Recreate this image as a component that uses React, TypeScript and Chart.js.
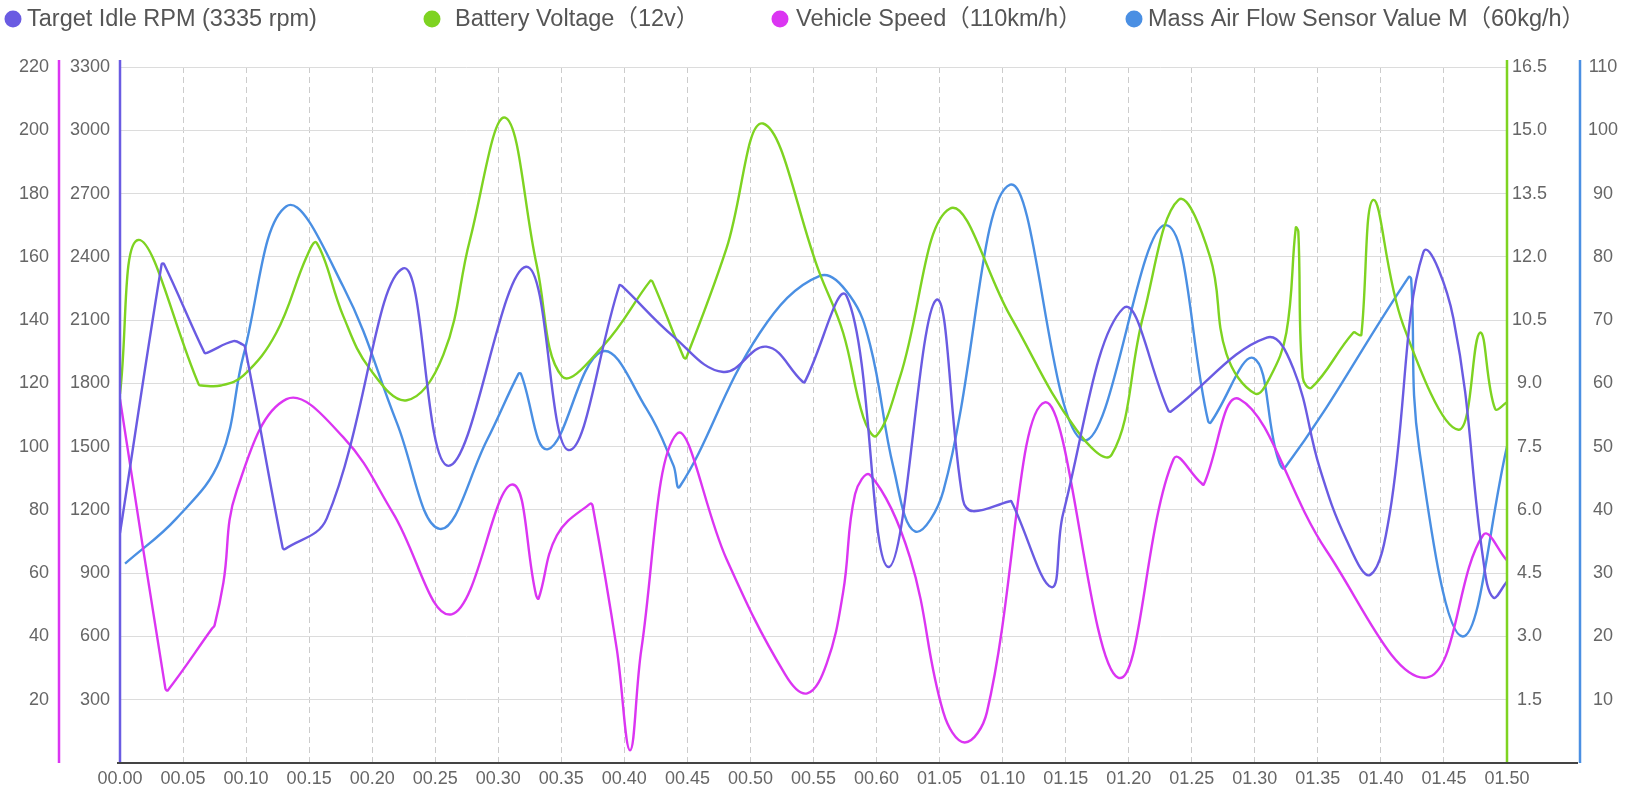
import React, { useEffect, useRef } from 'react';
import { Chart, registerables } from 'chart.js';

Chart.register(...registerables);

// ---------- data ----------
const xLabels = [
  '00.00', '00.05', '00.10', '00.15', '00.20', '00.25', '00.30', '00.35', '00.40', '00.45', '00.50', '00.55', '00.60',
  '01.05', '01.10', '01.15', '01.20', '01.25', '01.30', '01.35', '01.40', '01.45', '01.50',
];

const seriesNames = [
  'Target Idle RPM (3335 rpm)',
  'Battery Voltage（12v）',
  'Vehicle Speed（110km/h）',
  'Mass Air Flow Sensor Value M（60kg/h）',
];

// [x position in label steps, value]
const idleRpm: [number, number][] = [
  [0, 1090], [0.66, 2365], [0.70, 2365], [1.34, 1945], [1.38, 1945], [1.80, 2000], [1.94, 1985], [1.98, 1975],
  [2.58, 1020], [2.62, 1015], [3.28, 1160], [4.49, 2345], [5.21, 1409], [6.44, 2353], [7.11, 1484],
  [7.92, 2264], [7.96, 2262], [8.78, 2022], [9.57, 1854], [10.25, 1974], [10.82, 1810], [10.86, 1806],
  [11.53, 2211], [12.19, 929], [12.94, 2194], [13.37, 1248], [13.53, 1194], [14.10, 1240], [14.14, 1240],
  [14.775, 834], [14.96, 1183], [15.91, 2155], [16.63, 1670], [16.67, 1667], [18.19, 2017], [18.61, 1871],
  [19.03, 1398], [19.46, 1054], [19.83, 892], [20.14, 1183], [20.67, 2419], [21.15, 2108], [21.62, 970],
  [21.78, 785], [22, 860],
];

const batteryVoltage: [number, number][] = [
  [0, 8.75], [0.29, 12.4], [1.25, 8.97], [1.29, 8.95], [1.6, 8.95], [1.96, 9.19], [2.48, 10.2], [2.96, 12.0],
  [3.12, 12.33], [3.54, 10.6], [3.96, 9.35], [4.55, 8.6], [5.13, 9.68], [5.55, 12.4], [6.11, 15.3],
  [6.61, 11.8], [7.01, 9.17], [7.67, 9.9], [8.41, 11.43], [8.45, 11.4], [8.94, 9.62], [8.98, 9.6],
  [9.62, 12.2], [10.2, 15.16], [11.1, 11.6], [11.47, 10.2], [11.79, 8.2], [12.0, 7.76], [12.37, 9.14],
  [13.16, 13.14], [14.12, 10.6], [15.17, 7.9], [15.73, 7.31], [16.23, 10.6], [16.79, 13.35], [17.29, 12.0],
  [17.55, 9.7], [18.0, 8.76], [18.24, 9.14], [18.5, 10.2], [18.65, 12.69], [18.69, 12.6], [18.76, 9.14],
  [18.9, 8.9], [19.56, 10.2], [19.65, 10.15], [19.69, 10.15], [19.88, 13.35], [20.35, 10.4], [21.23, 7.9],
  [21.57, 10.2], [21.81, 8.4], [22, 8.55],
];

const vehicleSpeed: [number, number][] = [
  [0, 115], [0.72, 23.5], [0.76, 23], [1.46, 42.5], [1.5, 43.5], [1.64, 57], [1.85, 86], [2.64, 115],
  [3.54, 103], [4.33, 79], [5.26, 47], [6.21, 88], [6.6, 53], [6.64, 52], [6.93, 72], [7.46, 82], [7.5, 81],
  [7.88, 36], [8.09, 4], [8.27, 36], [8.83, 104], [9.62, 64.5], [10.55, 28], [10.9, 22], [11.21, 31.5],
  [11.47, 54], [11.66, 85], [11.9, 91], [12.53, 65], [13.06, 16], [13.4, 6.5], [13.75, 16], [14.67, 114],
  [15.83, 27], [16.71, 96], [17.15, 88.5], [17.19, 88], [17.76, 115], [19.14, 67], [20.72, 27],
  [21.62, 72], [22, 64],
];

const massAirFlow: [number, number][] = [
  [0.08, 31.5], [0.9, 38.7], [1.59, 48], [1.96, 64.5], [2.64, 88], [3.54, 75.3], [4.39, 53.8], [5.07, 37],
  [5.82, 51], [6.32, 61.5], [6.36, 61.5], [6.79, 49.6], [7.64, 65], [8.35, 56], [8.78, 47], [8.88, 43.7],
  [10.15, 68], [11.1, 77], [11.58, 73.8], [11.9, 66], [12.27, 46.6], [12.61, 36.6], [13.06, 43],
  [14.12, 91.4], [15.28, 51], [16.57, 85], [17.26, 54], [17.3, 53.8], [17.98, 64], [18.35, 48.7],
  [18.48, 46.7], [20.44, 76.8], [20.48, 76.5], [20.61, 49.5], [21.3, 20], [22, 50],
];

// ---------- styles ----------
const PURPLE = '#6a5be2';
const GREEN = '#7ed321';
const PINK = '#db35f2';
const BLUE = '#4a8fe3';
const TICK_FONT = { family: "'Liberation Sans', Arial, sans-serif", size: 18 };
const TICK_COLOR = '#666';

const toPts = (arr: [number, number][]) => arr.map(([x, y]) => ({ x, y }));

const axisLinesPlugin = {
  id: 'axisLines',
  afterDraw(chart: any) {
    const { ctx, chartArea, scales } = chart;
    const top = chartArea.top - 7;
    const bottom = chartArea.bottom;
    ctx.save();
    ctx.lineWidth = 2.5;
    const vline = (x: number, color: string) => {
      ctx.strokeStyle = color;
      ctx.beginPath();
      ctx.moveTo(x, top);
      ctx.lineTo(x, bottom);
      ctx.stroke();
    };
    vline(scales.ySpeed.right, PINK);
    vline(scales.yRpm.right, PURPLE);
    vline(scales.yVolt.left, GREEN);
    vline(scales.yMaf.left, BLUE);
    ctx.strokeStyle = '#444';
    ctx.lineWidth = 2;
    ctx.beginPath();
    ctx.moveTo(chartArea.left - 3, bottom);
    ctx.lineTo(scales.yMaf.left - 2, bottom);
    ctx.stroke();
    ctx.restore();
  },
};

const legendPlugin = {
  id: 'customLegend',
  afterDraw(chart: any) {
    const { ctx } = chart;
    const items = [
      [13, 27],
      [432, 455],
      [780, 796],
      [1134, 1148],
    ];
    ctx.save();
    ctx.font = "23.5px 'Liberation Sans', 'Noto Sans CJK SC', sans-serif";
    ctx.textBaseline = 'middle';
    ctx.textAlign = 'left';
    chart.data.datasets.forEach((ds: any, i: number) => {
      const [cx, tx] = items[i];
      ctx.fillStyle = ds.borderColor;
      ctx.beginPath();
      ctx.arc(cx, 19, 8.5, 0, Math.PI * 2);
      ctx.fill();
      ctx.fillStyle = '#555';
      ctx.fillText(ds.label, tx, 20);
    });
    ctx.restore();
  },
};

export default function App() {
  const canvasRef = useRef<HTMLCanvasElement>(null);

  useEffect(() => {
    document.body.style.margin = '0';
    document.body.style.overflow = 'hidden';
    const canvas = canvasRef.current;
    if (!canvas) return;
    const common = { borderWidth: 2.4, pointRadius: 0, pointHoverRadius: 0, tension: 0.4, fill: false };
    const chart = new Chart(canvas, {
      type: 'line',
      data: {
        datasets: [
          { ...common, label: seriesNames[0], data: toPts(idleRpm), borderColor: PURPLE, backgroundColor: PURPLE, yAxisID: 'yRpm' },
          { ...common, label: seriesNames[1], data: toPts(batteryVoltage), borderColor: GREEN, backgroundColor: GREEN, yAxisID: 'yVolt' },
          { ...common, label: seriesNames[2], data: toPts(vehicleSpeed), borderColor: PINK, backgroundColor: PINK, yAxisID: 'ySpeed' },
          { ...common, label: seriesNames[3], data: toPts(massAirFlow), borderColor: BLUE, backgroundColor: BLUE, yAxisID: 'yMaf' },
        ],
      },
      options: {
        animation: false,
        responsive: false,
        devicePixelRatio: 1,
        layout: { padding: { top: 67, left: 0, right: 0, bottom: 0 }, autoPadding: false },
        plugins: { legend: { display: false }, tooltip: { enabled: false }, title: { display: false } },
        scales: {
          x: {
            type: 'linear',
            position: 'bottom',
            min: 0,
            max: 22,
            ticks: {
              stepSize: 1,
              autoSkip: false,
              maxRotation: 0,
              padding: 5,
              font: TICK_FONT,
              color: TICK_COLOR,
              callback: (v: any) => xLabels[Math.round(Number(v))] ?? '',
            },
            grid: { color: '#cccccc', lineWidth: 1, drawTicks: false },
            border: { display: false, dash: [6, 4] },
            afterFit: (s: any) => { s.height = 25; },
          },
          ySpeed: {
            type: 'linear',
            position: 'left',
            weight: 1,
            min: 0,
            max: 220,
            ticks: {
              stepSize: 20,
              padding: 10,
              font: TICK_FONT,
              color: TICK_COLOR,
              callback: (v: any) => (Number(v) === 0 ? '' : String(v)),
            },
            grid: { display: false, drawTicks: false },
            border: { display: false },
            afterFit: (s: any) => { s.width = 59; },
          },
          yRpm: {
            type: 'linear',
            position: 'left',
            weight: 0,
            min: 0,
            max: 3300,
            ticks: {
              stepSize: 300,
              padding: 10,
              font: TICK_FONT,
              color: TICK_COLOR,
              callback: (v: any) => (Number(v) === 0 ? '' : String(v)),
            },
            grid: { color: '#dcdcdc', lineWidth: 1, drawTicks: false },
            border: { display: false },
            afterFit: (s: any) => { s.width = 61; },
          },
          yVolt: {
            type: 'linear',
            position: 'right',
            weight: 0,
            min: 0,
            max: 16.5,
            ticks: {
              stepSize: 1.5,
              padding: 5,
              crossAlign: 'center',
              font: TICK_FONT,
              color: TICK_COLOR,
              callback: (v: any) => (Number(v) === 0 ? '' : Number(v).toFixed(1)),
            },
            grid: { display: false, drawTicks: false },
            border: { display: false },
            afterFit: (s: any) => { s.width = 73; },
          },
          yMaf: {
            type: 'linear',
            position: 'right',
            weight: 1,
            min: 0,
            max: 110,
            ticks: {
              stepSize: 10,
              padding: 8,
              crossAlign: 'center',
              font: TICK_FONT,
              color: TICK_COLOR,
              callback: (v: any) => (Number(v) === 0 ? '' : String(v)),
            },
            grid: { display: false, drawTicks: false },
            border: { display: false },
            afterFit: (s: any) => { s.width = 63; },
          },
        },
      } as any,
      plugins: [axisLinesPlugin, legendPlugin],
    });
    return () => chart.destroy();
  }, []);

  return (
    <div style={{ width: 1643, height: 788 }}>
      <canvas ref={canvasRef} width={1643} height={788} style={{ display: 'block' }} />
    </div>
  );
}
